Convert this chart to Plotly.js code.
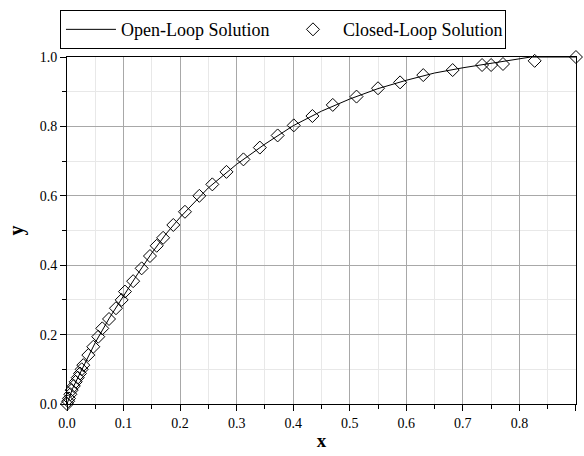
<!DOCTYPE html>
<html>
<head>
<meta charset="utf-8">
<script src="https://cdn.plot.ly/plotly-3.0.1.min.js"></script>
<style>html,body{margin:0;padding:0;background:#fff;}#chart{width:584px;height:456px;}</style>
</head>
<body>
<div id="chart"></div>
<script>
// Open-loop solution (continuous curve)
const openX = [0, 0.01, 0.025, 0.05, 0.075, 0.1, 0.125, 0.15, 0.175, 0.2, 0.25, 0.3, 0.35, 0.4, 0.45, 0.5, 0.55, 0.6, 0.65, 0.7, 0.75, 0.8, 0.82, 0.9];
const openY = [0, 0.045, 0.095, 0.177, 0.248, 0.312, 0.375, 0.435, 0.49, 0.538, 0.623, 0.691, 0.749, 0.802, 0.844, 0.879, 0.909, 0.933, 0.954, 0.969, 0.982, 0.994, 1.0, 1.0];
// Closed-loop solution (diamond markers)
const closedX = [0, 0.002, 0.0035, 0.006, 0.0083, 0.012, 0.0154, 0.019, 0.023, 0.026, 0.0288, 0.0377, 0.0465, 0.0553, 0.0624, 0.0743, 0.0866, 0.0967, 0.1025, 0.117, 0.132, 0.1467, 0.1586, 0.170, 0.188, 0.2086, 0.234, 0.257, 0.282, 0.312, 0.341, 0.3725, 0.401, 0.434, 0.470, 0.512, 0.550, 0.589, 0.630, 0.682, 0.734, 0.750, 0.771, 0.827, 0.9];
const closedY = [0, 0.008, 0.016, 0.028, 0.040, 0.052, 0.064, 0.076, 0.088, 0.100, 0.112, 0.141, 0.165, 0.194, 0.218, 0.245, 0.276, 0.300, 0.324, 0.354, 0.391, 0.4265, 0.456, 0.479, 0.516, 0.554, 0.600, 0.633, 0.669, 0.705, 0.739, 0.774, 0.803, 0.830, 0.862, 0.886, 0.910, 0.927, 0.948, 0.9625, 0.977, 0.977, 0.980, 0.989, 1.0];
const xTicks = [0, 0.1, 0.2, 0.3, 0.4, 0.5, 0.6, 0.7, 0.8, 0.9];
const xTickText = ['0.0','0.1','0.2','0.3','0.4','0.5','0.6','0.7','0.8','0.9'];
const yTicks = [0, 0.2, 0.4, 0.6, 0.8, 1.0];
const yTickText = ['0.0','0.2','0.4','0.6','0.8','1.0'];

const serif = "'Liberation Serif', 'DejaVu Serif', serif";

const traces = [
  {x: openX, y: openY, type: 'scatter', mode: 'lines', name: 'Open-Loop Solution',
   line: {color: '#000', width: 1}, cliponaxis: false},
  {x: closedX, y: closedY, type: 'scatter', mode: 'markers', name: 'Closed-Loop Solution',
   marker: {symbol: 'diamond-open', size: 10, color: '#000', line: {width: 1, color: '#000'}}, cliponaxis: false}
];

const layout = {
  width: 584, height: 456,
  margin: {l: 67, r: 8, t: 57, b: 52},
  paper_bgcolor: '#fff', plot_bgcolor: '#fff',
  font: {family: serif, size: 14, color: '#000'},
  showlegend: true,
  legend: {orientation: 'h', x: -0.0138, y: 1.135, xanchor: 'left', yanchor: 'top',
           bordercolor: '#000', borderwidth: 1, font: {family: serif, size: 18, color: '#000'},
           itemwidth: 50, entrywidth: 157, entrywidthmode: 'pixels', tracegroupgap: 0},
  xaxis: {range: [0, 0.9001], tickvals: xTicks, ticktext: xTickText, ticks: 'outside', ticklen: 6,
          tickcolor: '#000', showline: true, linecolor: '#000', linewidth: 1, mirror: true,
          showgrid: true, gridcolor: '#a8a8a8', gridwidth: 1, zeroline: false,
          minor: {dtick: 0.05, ticks: 'outside', ticklen: 4, tickcolor: '#000', showgrid: true, gridcolor: '#e8e8e8'},
          title: {text: '<b>x</b>', font: {family: serif, size: 19}, standoff: 3}},
  yaxis: {range: [0, 1.0001], tickvals: yTicks, ticktext: yTickText, ticks: 'outside', ticklen: 6,
          tickcolor: '#000', showline: true, linecolor: '#000', linewidth: 1, mirror: true,
          showgrid: true, gridcolor: '#a8a8a8', gridwidth: 1, zeroline: false,
          minor: {dtick: 0.1, ticks: 'outside', ticklen: 4, tickcolor: '#000', showgrid: true, gridcolor: '#e8e8e8'},
          title: {text: '<b>y</b>', font: {family: serif, size: 20}, standoff: 10}}
};

Plotly.newPlot('chart', traces, layout, {displayModeBar: false, staticPlot: true});
</script>
</body>
</html>
